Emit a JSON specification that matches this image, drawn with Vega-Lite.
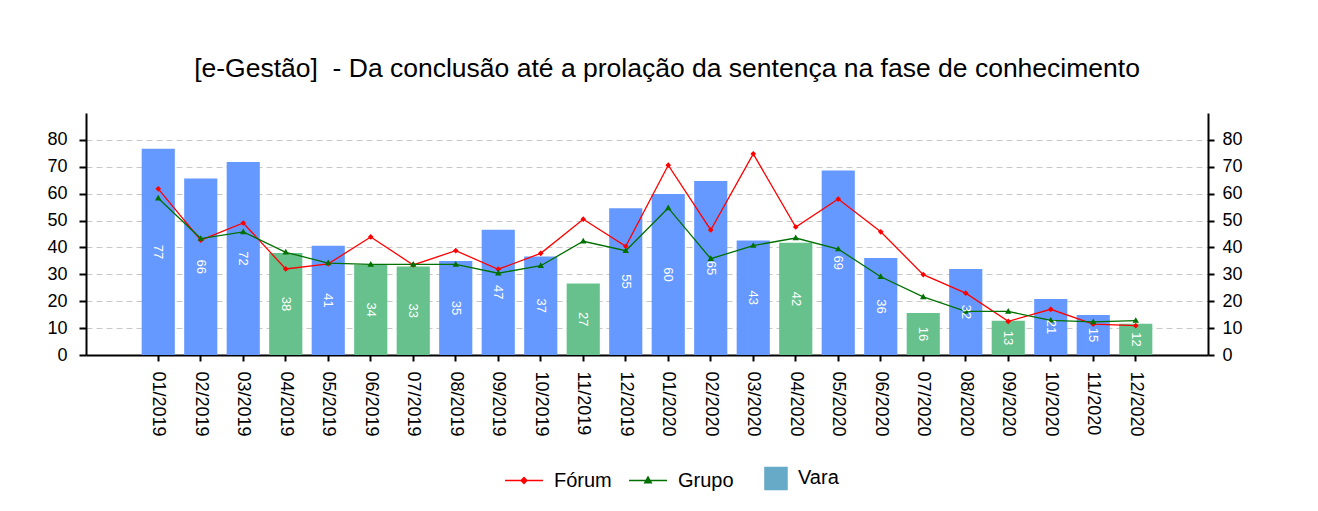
{
  "$schema": "https://vega.github.io/schema/vega-lite/v6.json",
  "autosize": "none",
  "width": 1122,
  "height": 242,
  "padding": {"left": 86, "top": 113, "right": 110, "bottom": 156},
  "background": "white",
  "title": {
    "text": "[e-Gestão]\u00a0 - Da conclusão até a prolação da sentença na fase de conhecimento",
    "font": "Liberation Sans",
    "fontSize": 26.5,
    "fontWeight": "normal",
    "color": "black",
    "anchor": "middle",
    "offset": 31,
    "dx": 20
  },
  "config": {
    "view": {"stroke": null},
    "font": "Liberation Sans",
    "axis": {
      "labelFont": "Liberation Sans",
      "labelFontSize": 18,
      "labelColor": "black",
      "domainColor": "black",
      "domainWidth": 2,
      "tickColor": "black",
      "tickWidth": 2,
      "title": null
    },
    "legend": {
      "labelFont": "Liberation Sans",
      "labelFontSize": 20,
      "labelColor": "black"
    }
  },
  "data": {
    "values": [
      {"mes": "01/2019", "Vara": 76.7, "Fórum": 61.8, "Grupo": 58.3},
      {"mes": "02/2019", "Vara": 65.6, "Fórum": 42.7, "Grupo": 43.3},
      {"mes": "03/2019", "Vara": 71.8, "Fórum": 49.1, "Grupo": 45.8},
      {"mes": "04/2019", "Vara": 37.95, "Fórum": 32.0, "Grupo": 38.2},
      {"mes": "05/2019", "Vara": 40.6, "Fórum": 33.9, "Grupo": 34.2},
      {"mes": "06/2019", "Vara": 33.6, "Fórum": 43.9, "Grupo": 33.7},
      {"mes": "07/2019", "Vara": 32.9, "Fórum": 33.5, "Grupo": 33.7},
      {"mes": "08/2019", "Vara": 35.0, "Fórum": 38.8, "Grupo": 33.7},
      {"mes": "09/2019", "Vara": 46.6, "Fórum": 31.9, "Grupo": 30.4},
      {"mes": "10/2019", "Vara": 36.6, "Fórum": 37.8, "Grupo": 33.2},
      {"mes": "11/2019", "Vara": 26.6, "Fórum": 50.5, "Grupo": 42.3},
      {"mes": "12/2019", "Vara": 54.6, "Fórum": 40.4, "Grupo": 38.8},
      {"mes": "01/2020", "Vara": 59.9, "Fórum": 70.6, "Grupo": 54.7},
      {"mes": "02/2020", "Vara": 64.7, "Fórum": 46.5, "Grupo": 35.8},
      {"mes": "03/2020", "Vara": 42.6, "Fórum": 74.8, "Grupo": 40.7},
      {"mes": "04/2020", "Vara": 41.7, "Fórum": 47.6, "Grupo": 43.5},
      {"mes": "05/2020", "Vara": 68.6, "Fórum": 58.0, "Grupo": 39.4},
      {"mes": "06/2020", "Vara": 36.1, "Fórum": 45.8, "Grupo": 29.1},
      {"mes": "07/2020", "Vara": 15.6, "Fórum": 29.9, "Grupo": 21.6},
      {"mes": "08/2020", "Vara": 32.0, "Fórum": 23.0, "Grupo": 16.2},
      {"mes": "09/2020", "Vara": 12.7, "Fórum": 12.5, "Grupo": 16.2},
      {"mes": "10/2020", "Vara": 20.8, "Fórum": 17.0, "Grupo": 12.9},
      {"mes": "11/2020", "Vara": 14.9, "Fórum": 11.5, "Grupo": 12.3},
      {"mes": "12/2020", "Vara": 11.6, "Fórum": 10.9, "Grupo": 12.8}
    ]
  },
  "encoding": {
    "x": {
      "field": "mes",
      "type": "ordinal",
      "sort": null,
      "scale": {
        "domain": ["_ini", "01/2019", "02/2019", "03/2019", "04/2019", "05/2019", "06/2019", "07/2019", "08/2019", "09/2019", "10/2019", "11/2019", "12/2019", "01/2020", "02/2020", "03/2020", "04/2020", "05/2020", "06/2020", "07/2020", "08/2020", "09/2020", "10/2020", "11/2020", "12/2020", "_fim"],
        "paddingInner": 0.22,
        "paddingOuter": 0.31
      },
      "axis": {
        "values": ["01/2019", "02/2019", "03/2019", "04/2019", "05/2019", "06/2019", "07/2019", "08/2019", "09/2019", "10/2019", "11/2019", "12/2019", "01/2020", "02/2020", "03/2020", "04/2020", "05/2020", "06/2020", "07/2020", "08/2020", "09/2020", "10/2020", "11/2020", "12/2020"],
        "labelAngle": 90,
        "labelAlign": "left",
        "labelBaseline": "middle",
        "labelPadding": 10,
        "tickSize": 6,
        "grid": false
      }
    }
  },
  "layer": [
    {
      "layer": [
        {
          "mark": {"type": "bar"},
          "encoding": {
            "y": {
              "field": "Vara",
              "type": "quantitative",
              "scale": {"domain": [0, 90], "nice": false},
              "axis": {
                "orient": "left",
                "values": [0, 10, 20, 30, 40, 50, 60, 70, 80],
                "grid": true,
                "gridColor": "#c8c8c8",
                "gridDash": [6, 4],
                "gridWidth": 1,
                "tickSize": 7,
                "labelPadding": 12
              }
            },
            "color": {
              "condition": {"test": "datum['Vara'] <= datum['Grupo']", "value": "#66c18c"},
              "value": "#6699ff"
            }
          }
        },
        {
          "transform": [{"fold": ["Fórum", "Grupo"], "as": ["serie", "valor"]}],
          "mark": {"type": "line", "strokeWidth": 1.3},
          "encoding": {
            "y": {
              "field": "valor",
              "type": "quantitative",
              "axis": {
                "orient": "right",
                "values": [0, 10, 20, 30, 40, 50, 60, 70, 80],
                "grid": false,
                "tickSize": 6,
                "labelPadding": 8
              }
            },
            "color": {
              "field": "serie",
              "type": "nominal",
              "scale": {"domain": ["Fórum", "Grupo", "Vara"], "range": ["#ff0000", "#007000", "#66aac8"]},
              "legend": {
                "title": null,
                "orient": "none",
                "direction": "horizontal",
                "legendX": 418,
                "legendY": 345,
                "symbolSize": 1444,
                "symbolStrokeWidth": 1.5,
                "labelOffset": 10,
                "columnPadding": 14
              }
            },
            "shape": {
              "field": "serie",
              "type": "nominal",
              "scale": {
                "domain": ["Fórum", "Grupo", "Vara"],
                "range": [
                  "M-1,0H1M-0.15,0L0,-0.15L0.15,0L0,0.15Z",
                  "M-1,0H1M-0.17,0.12L0,-0.18L0.17,0.12Z",
                  "M-0.16,-0.58H1V0.58H-0.16Z"
                ]
              }
            }
          }
        },
        {
          "transform": [{"fold": ["Fórum", "Grupo"], "as": ["serie", "valor"]}],
          "mark": {"type": "point", "filled": true, "strokeWidth": 0, "size": 1444, "opacity": 1},
          "encoding": {
            "y": {"field": "valor", "type": "quantitative", "axis": null},
            "color": {"field": "serie", "type": "nominal"},
            "shape": {"field": "serie", "type": "nominal"}
          }
        }
      ],
      "resolve": {"axis": {"y": "independent"}}
    },
    {
      "mark": {"type": "text", "angle": 90, "align": "center", "baseline": "middle", "fontSize": 13, "fill": "white", "font": "Liberation Sans"},
      "encoding": {
        "y": {"field": "Vara", "type": "quantitative", "scale": {"domain": [0, 180], "nice": false}, "axis": null},
        "text": {"field": "Vara", "type": "quantitative", "format": ".0f"}
      }
    }
  ],
  "resolve": {"scale": {"y": "independent"}}
}
